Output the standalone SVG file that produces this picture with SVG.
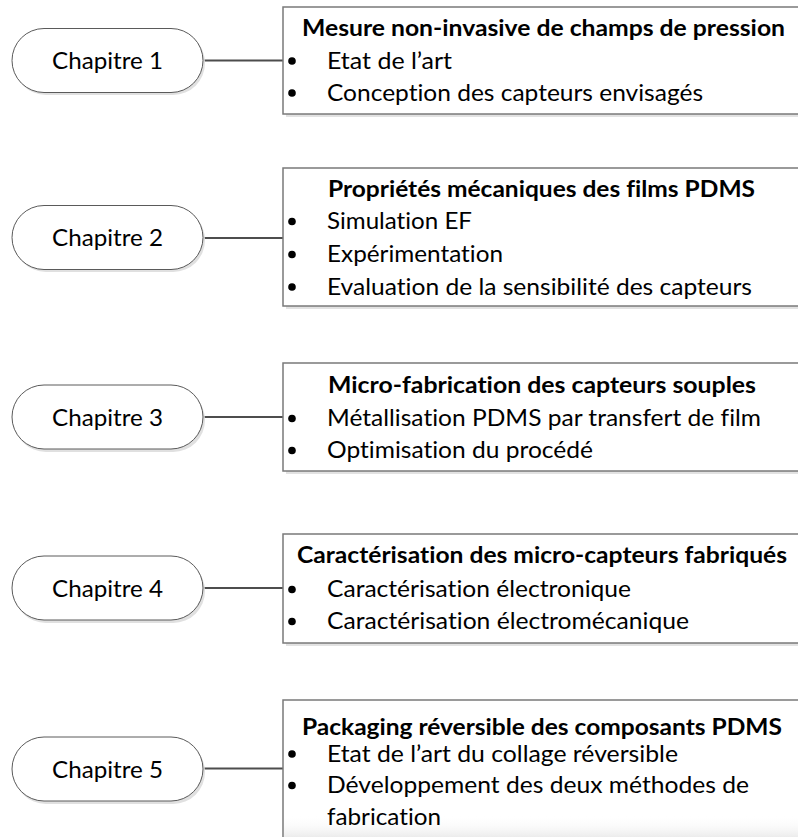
<svg xmlns="http://www.w3.org/2000/svg" width="798" height="837" viewBox="0 0 798 837">
<defs>
<style>
.pill{fill:#ffffff;stroke:#5a5a5a;stroke-width:1}
.pillsh{fill:#e0e0e0}
.box{fill:#ffffff;stroke:#7a7a7a;stroke-width:1.5}
.boxsh{fill:#e2e2e2}
.conn{stroke:#4d4d4d;stroke-width:1.8;fill:none}
text{font-family:Lato,"Open Sans","Liberation Sans",sans-serif;fill:#000000;font-size:23px;font-variant-ligatures:none;font-feature-settings:"liga" 0,"clig" 0}
.t{font-weight:bold;text-anchor:middle}
.c{text-anchor:middle}
.dot{fill:#000000}
</style>
<linearGradient id="fade" x1="0" y1="0" x2="0" y2="1">
<stop offset="0" stop-color="#ffffff" stop-opacity="0"/>
<stop offset="1" stop-color="#ececec" stop-opacity="1"/>
</linearGradient>
</defs>
<rect width="798" height="837" fill="#ffffff"/>

<g id="connectors">
<line class="conn" x1="203" y1="60.5" x2="283" y2="60.5"/>
<line class="conn" x1="203" y1="238" x2="283" y2="238"/>
<line class="conn" x1="203" y1="417" x2="283" y2="417"/>
<line class="conn" x1="203" y1="588" x2="283" y2="588"/>
<line class="conn" x1="203" y1="768.5" x2="283" y2="768.5"/>
</g>

<g id="chapitre1">
<rect class="pillsh" x="14" y="31" width="191" height="64" rx="32"/>
<rect class="pill" x="12" y="28.5" width="191" height="64" rx="32"/>
<text class="c" x="107.5" y="68.5" textLength="111" lengthAdjust="spacingAndGlyphs">Chapitre 1</text>
</g>
<g id="box1">
<rect class="boxsh" x="286" y="10" width="520" height="107"/>
<rect class="box" x="283" y="7" width="520" height="107"/>
<text class="t" x="543.5" y="35.5" textLength="483" lengthAdjust="spacingAndGlyphs">Mesure non-invasive de champs de pression</text>
<circle class="dot" cx="292" cy="61" r="3.8"/>
<text x="327" y="69" textLength="125" lengthAdjust="spacingAndGlyphs">Etat de l’art</text>
<circle class="dot" cx="292" cy="93" r="3.8"/>
<text x="327" y="100.5" textLength="376" lengthAdjust="spacingAndGlyphs">Conception des capteurs envisagés</text>
</g>

<g id="chapitre2">
<rect class="pillsh" x="14" y="208" width="191" height="64" rx="32"/>
<rect class="pill" x="12" y="205.5" width="191" height="64" rx="32"/>
<text class="c" x="107.5" y="246" textLength="111" lengthAdjust="spacingAndGlyphs">Chapitre 2</text>
</g>
<g id="box2">
<rect class="boxsh" x="286" y="171" width="520" height="138"/>
<rect class="box" x="283" y="168" width="520" height="138"/>
<text class="t" x="541.5" y="196.5" textLength="427" lengthAdjust="spacingAndGlyphs">Propriétés mécaniques des films PDMS</text>
<circle class="dot" cx="292" cy="221.5" r="3.8"/>
<text x="327" y="229" textLength="145" lengthAdjust="spacingAndGlyphs">Simulation EF</text>
<circle class="dot" cx="292" cy="254.5" r="3.8"/>
<text x="327" y="262" textLength="176" lengthAdjust="spacingAndGlyphs">Expérimentation</text>
<circle class="dot" cx="292" cy="287" r="3.8"/>
<text x="327" y="294.5" textLength="425" lengthAdjust="spacingAndGlyphs">Evaluation de la sensibilité des capteurs</text>
</g>

<g id="chapitre3">
<rect class="pillsh" x="14" y="388" width="191" height="64" rx="32"/>
<rect class="pill" x="12" y="385" width="191" height="64" rx="32"/>
<text class="c" x="107.5" y="425.5" textLength="111" lengthAdjust="spacingAndGlyphs">Chapitre 3</text>
</g>
<g id="box3">
<rect class="boxsh" x="286" y="366" width="520" height="108"/>
<rect class="box" x="283" y="363" width="520" height="108"/>
<text class="t" x="542" y="392.5" textLength="428" lengthAdjust="spacingAndGlyphs">Micro-fabrication des capteurs souples</text>
<circle class="dot" cx="292" cy="418.5" r="3.8"/>
<text x="327" y="426" textLength="434" lengthAdjust="spacingAndGlyphs">Métallisation PDMS par transfert de film</text>
<circle class="dot" cx="292" cy="450.5" r="3.8"/>
<text x="327" y="458" textLength="266" lengthAdjust="spacingAndGlyphs">Optimisation du procédé</text>
</g>

<g id="chapitre4">
<rect class="pillsh" x="14" y="559" width="191" height="64" rx="32"/>
<rect class="pill" x="12" y="556" width="191" height="64" rx="32"/>
<text class="c" x="107.5" y="596.5" textLength="111" lengthAdjust="spacingAndGlyphs">Chapitre 4</text>
</g>
<g id="box4">
<rect class="boxsh" x="286" y="537" width="520" height="109"/>
<rect class="box" x="283" y="534" width="520" height="109"/>
<text class="t" x="542" y="562.5" textLength="490" lengthAdjust="spacingAndGlyphs">Caractérisation des micro-capteurs fabriqués</text>
<circle class="dot" cx="292" cy="589.5" r="3.8"/>
<text x="327" y="597" textLength="304" lengthAdjust="spacingAndGlyphs">Caractérisation électronique</text>
<circle class="dot" cx="292" cy="621.5" r="3.8"/>
<text x="327" y="629" textLength="362" lengthAdjust="spacingAndGlyphs">Caractérisation électromécanique</text>
</g>

<g id="chapitre5">
<rect class="pillsh" x="14" y="740" width="191" height="64" rx="32"/>
<rect class="pill" x="12" y="737" width="191" height="64" rx="32"/>
<text class="c" x="107.5" y="777.5" textLength="111" lengthAdjust="spacingAndGlyphs">Chapitre 5</text>
</g>
<g id="box5">
<rect class="box" x="283" y="700" width="520" height="160"/>
<rect x="284" y="815" width="518" height="22" fill="url(#fade)"/>
<text class="t" x="542" y="735" textLength="480" lengthAdjust="spacingAndGlyphs">Packaging réversible des composants PDMS</text>
<circle class="dot" cx="292" cy="754" r="3.8"/>
<text x="327" y="761.5" textLength="351" lengthAdjust="spacingAndGlyphs">Etat de l’art du collage réversible</text>
<circle class="dot" cx="292" cy="785.5" r="3.8"/>
<text x="327" y="793" textLength="422" lengthAdjust="spacingAndGlyphs">Développement des deux méthodes de</text>
<text x="327" y="824.5" textLength="114" lengthAdjust="spacingAndGlyphs">fabrication</text>
</g>
</svg>
